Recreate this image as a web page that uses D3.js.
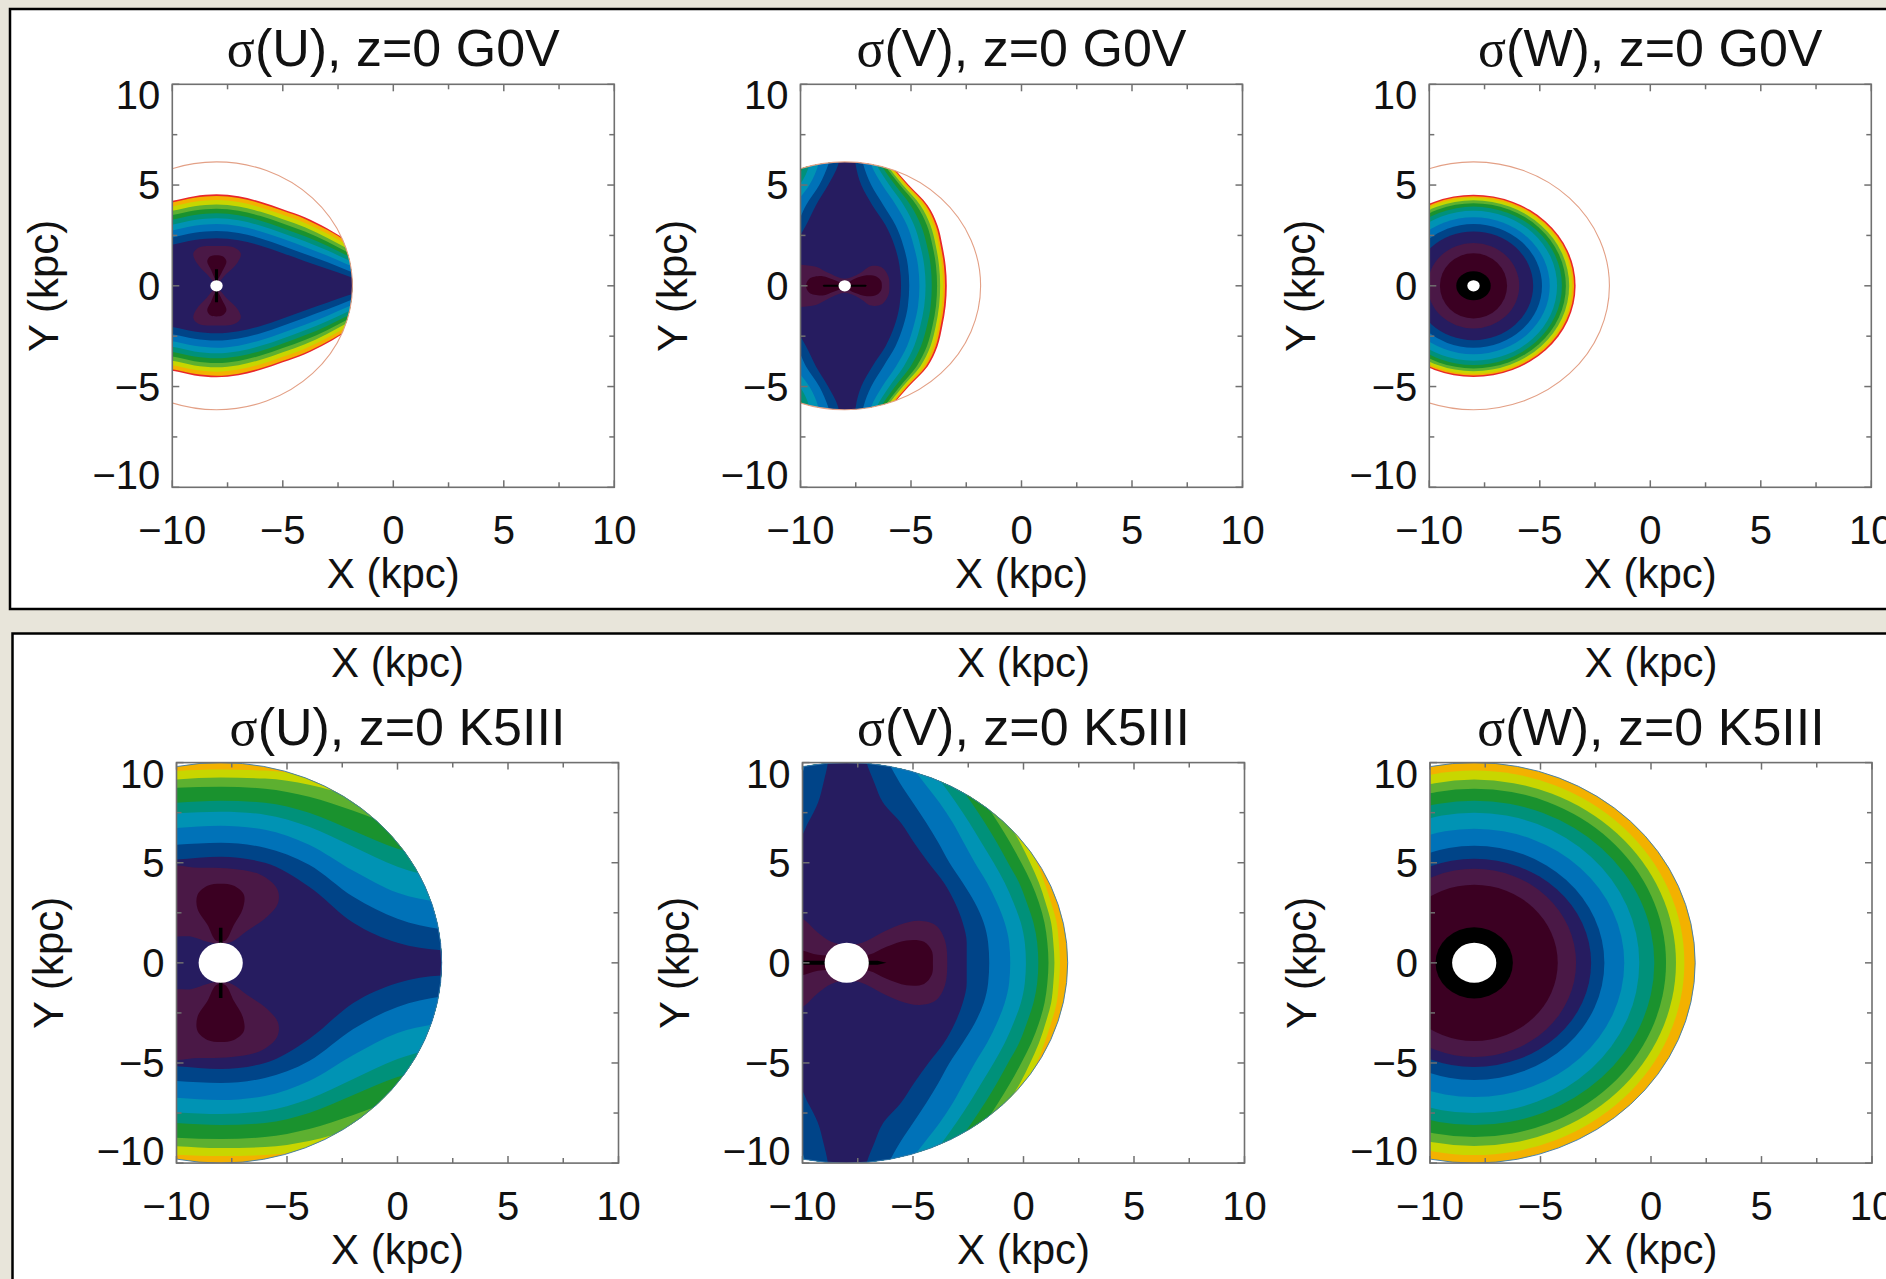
<!DOCTYPE html>
<html><head><meta charset="utf-8">
<script src="https://cdn.jsdelivr.net/npm/d3@7"></script>
<style>body{margin:0;background:#e8e5da;} svg{display:block}</style>
</head><body><svg id="c" width="1886" height="1279"></svg>
<script>
// ---------- colour table of the contour levels (index 0 = lowest) ----------
const levelColors = ["#000000","#3b0022","#4a1846","#261c60","#004488","#0072b8",
                     "#0093b4","#00917a","#1a922e","#5db030","#c8d600","#f3b100","#e8262a"];
const majorTicks = [-10, -5, 0, 5, 10];
const minorTicks = [-7.5, -2.5, 2.5, 7.5];
const sunX = -8;                                   // kpc
const sampleRadius = {G0V: 6.15, K5III: 10};       // kpc, edge of computed region
const holeRadius   = {G0V: 0.28, K5III: 1.0};      // kpc

// ---------- sigma(U), G0V : half-heights of each level region at x stations ----------
const uG0V_x = [-10.5, -10, -9, -8, -7, -6, -5, -4, -3, -2, -1];
const uG0V_levels = [
  [12, [4.15, 4.22, 4.45, 4.54, 4.44, 4.17, 3.80, 3.40, 2.85, 2.20, 1.60]],
  [11, [4.07, 4.14, 4.37, 4.46, 4.36, 4.09, 3.72, 3.32, 2.78, 2.14, 1.54]],
  [10, [3.87, 3.94, 4.17, 4.26, 4.16, 3.89, 3.52, 3.12, 2.59, 1.98, 1.40]],
  [9,  [3.65, 3.72, 3.95, 4.04, 3.94, 3.67, 3.30, 2.90, 2.39, 1.80, 1.25]],
  [8,  [3.44, 3.51, 3.74, 3.83, 3.73, 3.46, 3.09, 2.69, 2.20, 1.63, 1.10]],
  [7,  [3.21, 3.28, 3.51, 3.60, 3.50, 3.23, 2.86, 2.46, 1.99, 1.45, 0.94]],
  [6,  [2.96, 3.03, 3.26, 3.35, 3.25, 2.98, 2.61, 2.21, 1.76, 1.25, 0.77]],
  [5,  [2.68, 2.75, 2.98, 3.07, 2.97, 2.70, 2.33, 1.93, 1.50, 1.02, 0.57]],
  [4,  [2.33, 2.40, 2.63, 2.72, 2.62, 2.35, 1.98, 1.58, 1.18, 0.74, 0.33]],
  [3,  [1.97, 2.04, 2.27, 2.36, 2.26, 1.99, 1.62, 1.22, 0.84, 0.46, 0.10]]
];
const uG0V_lobes = [
  [2, [[-8.0,0.15],[-8.45,0.6],[-8.9,1.15],[-9.05,1.6],[-8.8,1.9],[-8.0,1.97],[-7.2,1.9],[-6.9,1.6],[-7.05,1.15],[-7.55,0.6]]],
  [1, [[-8.0,0.3],[-8.25,0.8],[-8.42,1.2],[-8.3,1.45],[-8.0,1.52],[-7.7,1.45],[-7.55,1.2],[-7.7,0.8]]]
];
const uG0V_streak = [[-8.07,0.15],[-8.07,0.82],[-7.93,0.82],[-7.93,0.15]];

// ---------- sigma(V), G0V : left / right x of each level region at y stations ----------
const vG0V_y = [0, 1, 2, 3, 4, 5, 6, 6.5];
const vG0V_levels = [
  [12, [-11,-11,-11,-11,-11,-11,-11,-11],          [-3.38,-3.43,-3.58,-3.80,-4.25,-5.10,-5.90,-6.30]],
  [11, [-11,-11,-11,-11,-11,-11,-11,-11],          [-3.46,-3.51,-3.66,-3.88,-4.33,-5.17,-5.95,-6.35]],
  [10, [-11,-11,-11,-11,-11,-11,-11,-11],          [-3.55,-3.60,-3.75,-3.98,-4.43,-5.25,-6.02,-6.40]],
  [9,  [-11,-11,-11,-11,-11,-11,-11,-11],          [-3.68,-3.73,-3.88,-4.12,-4.58,-5.37,-6.10,-6.45]],
  [8,  [-11,-11,-11,-11,-11,-11,-10.2,-10.0],      [-3.82,-3.87,-4.03,-4.28,-4.75,-5.50,-6.20,-6.50]],
  [7,  [-11,-11,-11,-11,-11,-10.3,-9.85,-9.7],     [-4.06,-4.11,-4.28,-4.55,-5.02,-5.72,-6.35,-6.60]],
  [6,  [-11,-11,-11,-11,-11,-10.05,-9.6,-9.5],     [-4.34,-4.40,-4.58,-4.86,-5.33,-5.98,-6.55,-6.75]],
  [5,  [-11,-11,-11,-11,-10.3,-9.6,-9.2,-9.1],     [-4.62,-4.68,-4.88,-5.18,-5.68,-6.30,-6.80,-6.95]],
  [4,  [-11,-11,-11,-10.2,-9.75,-9.15,-8.75,-8.6], [-5.08,-5.14,-5.35,-5.70,-6.25,-6.80,-7.15,-7.25]],
  [3,  [-11,-11,-10.3,-9.75,-9.3,-8.75,-8.3,-8.2], [-5.45,-5.52,-5.75,-6.15,-6.75,-7.25,-7.50,-7.55]]
];
const vG0V_lobes = [
  [2, [[-10.5,1.1],[-10,1.05],[-9.3,0.95],[-8.7,0.62],[-8,0.35],[-7.35,0.6],[-6.8,0.98],[-6.3,0.9],[-6.02,0.45],[-5.98,0]]],
  [1, [[-9.75,0],[-9.6,0.35],[-9.0,0.48],[-8.5,0.3],[-8,0.12],[-7.55,0.35],[-7.0,0.52],[-6.55,0.45],[-6.35,0.22],[-6.32,0]]]
];
const vG0V_streak = [[-9.0,0],[-8.95,0.05],[-7.05,0.05],[-7.0,0]];

// ---------- sigma(W), G0V : semi-axes (rx, ry) of each level region ----------
const wG0V_rings = [[12,4.62,4.52],[11,4.55,4.45],[10,4.47,4.37],[9,4.33,4.24],[8,4.18,4.10],[7,4.00,3.93],
  [6,3.78,3.72],[5,3.45,3.40],[4,3.10,3.07],[3,2.70,2.70],[2,2.07,2.12],[1,1.52,1.62],[0,0.78,0.72]];

// ---------- sigma(U), K5III ----------
const uK5_x = [-10.5, -10, -8, -6, -4, -2, 0, 2, 3];
const uK5_levels = [
  [11, [11, 11, 11, 11, 11, 11, 11, 11, 11]],
  [10, [9.55, 9.58, 9.65, 9.60, 9.35, 8.90, 8.20, 7.60, 7.30]],
  [9,  [9.13, 9.16, 9.25, 9.20, 8.90, 8.30, 7.60, 7.10, 6.80]],
  [8,  [8.70, 8.74, 8.80, 8.70, 8.30, 7.60, 6.80, 6.30, 6.00]],
  [7,  [7.97, 8.00, 8.10, 8.00, 7.50, 6.60, 5.70, 5.20, 5.00]],
  [6,  [7.44, 7.47, 7.55, 7.40, 6.80, 5.80, 4.80, 4.20, 4.00]],
  [5,  [6.70, 6.74, 6.85, 6.65, 5.90, 4.60, 3.50, 3.00, 2.80]],
  [4,  [5.87, 5.90, 6.00, 5.75, 4.90, 3.30, 2.20, 1.68, 1.60]],
  [3,  [5.13, 5.16, 5.30, 5.00, 3.80, 2.00, 1.00, 0.63, 0.60]]
];
const uK5_lobes = [
  [2, [[-10.5,4.7],[-9,4.75],[-7.5,4.7],[-6.2,4.4],[-5.45,3.7],[-5.4,3.0],[-5.9,2.3],[-6.8,1.6],[-7.5,1.05],[-8.0,0.95],[-8.6,1.05],[-9.3,1.3],[-10.5,1.5]]],
  [1, [[-8.2,1.1],[-8.6,1.9],[-9.05,2.7],[-9.05,3.4],[-8.6,3.85],[-8.0,3.95],[-7.4,3.85],[-6.95,3.4],[-7.0,2.7],[-7.4,1.9],[-7.8,1.1]]]
];
const uK5_streak = [[-8.08,0.9],[-8.08,1.75],[-7.92,1.75],[-7.92,0.9]];

// ---------- sigma(V), K5III ----------
const vK5_y = [0, 1, 2, 3, 4, 5, 6, 7, 8, 9, 10, 10.5];
const L12 = [-12,-12,-12,-12,-12,-12,-12,-12,-12,-12,-12,-12];
const vK5_levels = [
  [11, L12, [3,3,3,3,3,3,3,3,3,3,3,3]],
  [10, L12, [1.65,1.60,1.50,1.25,0.95,0.60,0.15,-0.40,-1.00,-1.70,-2.40,-2.70]],
  [9,  L12, [1.40,1.35,1.25,1.00,0.70,0.30,-0.15,-0.70,-1.30,-2.00,-2.70,-3.00]],
  [8,  L12, [1.13,1.08,0.95,0.70,0.35,-0.10,-0.60,-1.15,-1.75,-2.40,-3.10,-3.40]],
  [7,  L12, [0.67,0.62,0.45,0.15,-0.20,-0.70,-1.20,-1.75,-2.35,-3.00,-3.60,-3.90]],
  [6,  L12, [0.11,0.06,-0.12,-0.45,-0.85,-1.35,-1.90,-2.45,-3.05,-3.70,-4.40,-4.70]],
  [5,  L12, [-0.60,-0.65,-0.85,-1.20,-1.65,-2.20,-2.70,-3.20,-3.80,-4.50,-5.20,-5.50]],
  [4,  [-12,-12,-12,-12,-12,-12,-12,-12,-12,-10.3,-9.85,-9.75], [-1.55,-1.60,-1.80,-2.20,-2.75,-3.35,-3.85,-4.40,-5.00,-5.60,-6.10,-6.30]],
  [3,  [-12,-12,-12,-12,-12,-12,-10.3,-9.75,-9.3,-9.05,-8.85,-8.8], [-2.57,-2.57,-2.75,-3.10,-3.60,-4.30,-4.95,-5.55,-6.35,-6.75,-7.10,-7.20]]
];
const vK5_lobes = [
  [2, [[-10.5,2.3],[-10,2.2],[-9.3,1.5],[-8.7,1.05],[-8,0.9],[-7.3,1.0],[-6.5,1.45],[-5.6,1.9],[-4.7,2.1],[-3.95,1.85],[-3.55,1.1],[-3.45,0]]],
  [1, [[-10.5,0.7],[-10,0.62],[-9.3,0.4],[-8,0.35],[-7.0,0.4],[-6.2,0.8],[-5.3,1.12],[-4.5,1.05],[-4.15,0.6],[-4.1,0]]]
];
const vK5_streak = [[-10.5,0],[-10.5,0.1],[-6.6,0.1],[-6.2,0]];

// ---------- sigma(W), K5III ----------
const wK5_rings = [[11,10.5,10.5],[10,9.51,9.6],[9,9.13,9.15],[8,8.68,8.7],[7,8.15,8.1],[6,7.47,7.5],
  [5,6.79,6.7],[4,5.89,5.85],[3,5.29,5.2],[2,4.61,4.7],[1,3.78,3.9],[0,1.75,1.78]];

// ---------- panel list ----------
const panels = [
  {row:0, col:0, comp:"U", star:"G0V",   type:"U", xs:uG0V_x, levels:uG0V_levels, lobes:uG0V_lobes, streak:uG0V_streak},
  {row:0, col:1, comp:"V", star:"G0V",   type:"V", ys:vG0V_y, levels:vG0V_levels, lobes:vG0V_lobes, streak:vG0V_streak},
  {row:0, col:2, comp:"W", star:"G0V",   type:"W", rings:wG0V_rings},
  {row:1, col:0, comp:"U", star:"K5III", type:"U", xs:uK5_x, levels:uK5_levels, lobes:uK5_lobes, streak:uK5_streak},
  {row:1, col:1, comp:"V", star:"K5III", type:"V", ys:vK5_y, levels:vK5_levels, lobes:vK5_lobes, streak:vK5_streak},
  {row:1, col:2, comp:"W", star:"K5III", type:"W", rings:wK5_rings}
];

// ---------- layout (pixels) ----------
const plotLeft = [[172.3, 800.5, 1429.3], [176.5, 802.5, 1430]];
const plotTop = [84.3, 762.6];
const plotW = 442, plotH = [403, 400.5];
const FONT = "'Liberation Sans', Arial, Helvetica, sans-serif";

const svg = d3.select("#c");
svg.append("rect").attr("width",1886).attr("height",1279).attr("fill","#e8e5da");
svg.append("rect").attr("x",10).attr("y",9).attr("width",1900).attr("height",600)
   .attr("fill","#fff").attr("stroke","#000").attr("stroke-width",2.5);
svg.append("rect").attr("x",12.5).attr("y",633.5).attr("width",1900).attr("height",700)
   .attr("fill","#fff").attr("stroke","#000").attr("stroke-width",2.5);
const defs = svg.append("defs");

function mirrorClosed(pts) {
  const back = pts.slice().reverse().filter(d => d[1] !== 0).map(d => [d[0], -d[1]]);
  return pts.concat(back);
}

panels.forEach((p, idx) => {
  const left = plotLeft[p.row][p.col], top = plotTop[p.row], H = plotH[p.row];
  const x = d3.scaleLinear().domain([-10, 10]).range([left, left + plotW]);
  const y = d3.scaleLinear().domain([-10, 10]).range([top + H, top]);
  const R = sampleRadius[p.star];
  const g = svg.append("g");

  defs.append("clipPath").attr("id", "rc" + idx).append("rect")
    .attr("x", left).attr("y", top).attr("width", plotW).attr("height", H);
  defs.append("clipPath").attr("id", "cc" + idx).append("ellipse")
    .attr("cx", x(sunX)).attr("cy", y(0))
    .attr("rx", x(sunX + R) - x(sunX)).attr("ry", y(0) - y(R));

  const gr = g.append("g").attr("clip-path", `url(#rc${idx})`);
  const gc = gr.append("g").attr("clip-path", `url(#cc${idx})`);

  const line = d3.line().x(d => x(d[0])).y(d => y(d[1])).curve(d3.curveCatmullRomClosed.alpha(0.5));
  const lineLin = d3.line().x(d => x(d[0])).y(d => y(d[1])).curve(d3.curveLinearClosed);

  if (p.type === "U") {
    const area = d3.area().x(d => x(d[0])).y0(d => y(-d[1])).y1(d => y(d[1])).curve(d3.curveMonotoneX);
    p.levels.forEach(([lev, h]) => {
      gc.append("path").attr("d", area(p.xs.map((xv, i) => [xv, h[i]]))).attr("fill", levelColors[lev]);
    });
    p.lobes.forEach(([lev, pts]) => {
      [1, -1].forEach(s => gc.append("path").attr("d", line(pts.map(d => [d[0], s * d[1]]))).attr("fill", levelColors[lev]));
    });
    [1, -1].forEach(s => gc.append("path").attr("d", lineLin(p.streak.map(d => [d[0], s * d[1]]))).attr("fill", levelColors[0]));
  } else if (p.type === "V") {
    const area = d3.area().y(d => y(d[0])).x0(d => x(d[1])).x1(d => x(d[2])).curve(d3.curveMonotoneY);
    p.levels.forEach(([lev, L, Rt]) => {
      const rows = [];
      for (let i = p.ys.length - 1; i >= 1; i--) rows.push([-p.ys[i], L[i], Rt[i]]);
      for (let i = 0; i < p.ys.length; i++) rows.push([p.ys[i], L[i], Rt[i]]);
      gc.append("path").attr("d", area(rows)).attr("fill", levelColors[lev]);
    });
    p.lobes.forEach(([lev, pts]) => {
      gc.append("path").attr("d", line(mirrorClosed(pts))).attr("fill", levelColors[lev]);
    });
    gc.append("path").attr("d", lineLin(mirrorClosed(p.streak))).attr("fill", levelColors[0]);
  } else {
    p.rings.forEach(([lev, rx, ry]) => {
      gc.append("ellipse").attr("cx", x(sunX)).attr("cy", y(0))
        .attr("rx", x(sunX + rx) - x(sunX)).attr("ry", y(0) - y(ry))
        .attr("fill", levelColors[lev]);
    });
  }
  // hole around the Sun
  const hr = holeRadius[p.star];
  gc.append("ellipse").attr("cx", x(sunX)).attr("cy", y(0))
    .attr("rx", x(sunX + hr) - x(sunX)).attr("ry", y(0) - y(hr)).attr("fill", "#fff");

  // edge of the computed region
  gr.append("ellipse").attr("cx", x(sunX)).attr("cy", y(0))
    .attr("rx", x(sunX + R) - x(sunX)).attr("ry", y(0) - y(R))
    .attr("fill", "none")
    .attr("stroke", p.star === "G0V" ? "#e3a086" : "#3a78ac")
    .attr("stroke-width", p.star === "G0V" ? 1.1 : 0.9);

  // frame and ticks
  g.append("rect").attr("x", left).attr("y", top).attr("width", plotW).attr("height", H)
    .attr("fill", "none").attr("stroke", "#707070").attr("stroke-width", 1.6);
  const tk = g.append("g").attr("stroke", "#707070").attr("stroke-width", 1.5);
  majorTicks.concat(minorTicks).forEach(v => {
    const len = majorTicks.includes(v) ? 7 : 5;
    tk.append("line").attr("x1", x(v)).attr("x2", x(v)).attr("y1", top + H).attr("y2", top + H - len);
    tk.append("line").attr("x1", x(v)).attr("x2", x(v)).attr("y1", top).attr("y2", top + len);
    tk.append("line").attr("y1", y(v)).attr("y2", y(v)).attr("x1", left).attr("x2", left + len);
    tk.append("line").attr("y1", y(v)).attr("y2", y(v)).attr("x1", left + plotW).attr("x2", left + plotW - len);
  });
  const fmt = v => (v < 0 ? "\u2212" + Math.abs(v) : String(v));
  // end labels of the Y axis are kept inside the axis range
  const yShift = v => (v === 10 ? 11 : v === -10 ? -12 : 0);
  const tl = g.append("g").attr("font-family", FONT).attr("font-size", 40).attr("fill", "#111");
  majorTicks.forEach(v => {
    tl.append("text").attr("x", x(v)).attr("y", top + H + 57).attr("text-anchor", "middle").text(fmt(v));
    tl.append("text").attr("x", left - 12).attr("y", y(v) + 14 + yShift(v)).attr("text-anchor", "end").text(fmt(v));
  });
  const at = g.append("g").attr("font-family", FONT).attr("font-size", 42).attr("fill", "#111");
  at.append("text").attr("x", x(0)).attr("y", top + H + 100.5).attr("text-anchor", "middle").text("X (kpc)");
  if (p.row === 1) at.append("text").attr("x", x(0)).attr("y", top - 85.6).attr("text-anchor", "middle").text("X (kpc)");
  at.append("text").attr("transform", `translate(${left - 114},${top + H / 2}) rotate(-90)`)
    .attr("text-anchor", "middle").text("Y (kpc)");
  const tt = g.append("text").attr("x", x(0)).attr("y", top - 18).attr("text-anchor", "middle")
    .attr("font-family", FONT).attr("font-size", 52).attr("fill", "#111");
  tt.append("tspan").attr("font-family", "'Liberation Serif', 'DejaVu Serif', serif").text("\u03c3");
  tt.append("tspan").text(`(${p.comp}), z=0 ${p.star}`);
});
</script></body></html>
